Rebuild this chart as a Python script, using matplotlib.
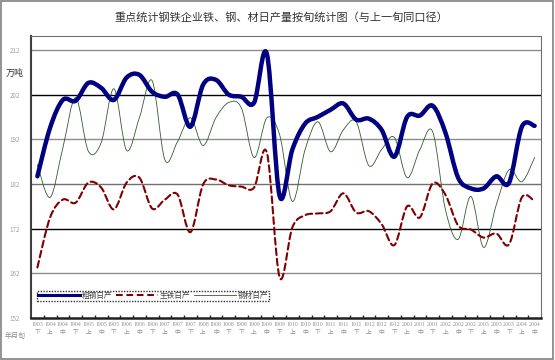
import matplotlib
matplotlib.use("Agg")
import matplotlib.pyplot as plt
from matplotlib.path import Path
from matplotlib.patches import PathPatch, Rectangle
from matplotlib.lines import Line2D

plt.rcParams['font.family'] = ['Noto Sans CJK SC', 'DejaVu Sans']

# ---------------- data ----------------
periods = ["1903"] + [y for y in ["1904", "1905", "1906", "1907"] for _ in range(3)] + \
          ["1908"] * 4 + [y for y in ["1909", "1910", "1911", "1912", "2001", "2002", "2003"] for _ in range(3)] + \
          ["2004"] * 2
xun = ["下"] + ["上", "中", "下"] * 4 + ["上", "中", "下", "下"] + ["上", "中", "下"] * 7 + ["上", "中"]

crude_steel = [183.7, 194.6, 200.8, 200.6, 204.6, 203.5, 200.8, 205.8, 206.4, 202.6,
               201.5, 202.0, 194.8, 204.2, 205.3, 202.0, 201.5, 200.2, 211.1, 179.3,
               189.7, 195.5, 197.0, 198.6, 200.0, 196.4, 196.6, 194.1, 188.1, 197.0,
               197.3, 199.5, 193.5, 183.4, 181.0, 181.0, 183.7, 182.3, 194.8, 195.0]
pig_iron = [163.3, 174.5, 178.5, 177.8, 182.3, 181.2, 176.3, 182.3, 183.4, 176.5,
            178.5, 179.6, 171.2, 181.9, 183.0, 181.7, 181.4, 181.2, 189.0, 161.1,
            172.3, 175.0, 175.4, 175.9, 179.9, 175.6, 175.9, 173.0, 168.3, 177.0,
            174.5, 182.1, 179.6, 172.7, 171.8, 170.0, 170.9, 168.5, 179.0, 178.1]
steel_products = [186.3, 179.0, 190.1, 201.3, 189.3, 191.2, 203.3, 189.5, 196.8, 205.1,
                  187.4, 191.5, 196.8, 190.6, 196.8, 200.2, 199.0, 187.9, 196.8, 193.0,
                  178.1, 189.7, 195.9, 189.2, 194.1, 195.9, 186.1, 189.7, 192.4, 183.4,
                  189.7, 193.7, 176.3, 169.6, 179.2, 167.8, 177.4, 185.2, 182.5, 187.9]
series_names = ["粗钢日产", "生铁日产", "钢材日产"]
yticks = [152, 162, 172, 182, 192, 202, 212]

# ---------------- figure ----------------
W, H = 555, 360
fig = plt.figure(figsize=(W / 100, H / 100), dpi=100)
ax = fig.add_axes([31 / W, 1 - 318 / H, 510 / W, 282 / H])
n = len(periods)
ax.set_xlim(-0.5, n - 0.5)
ax.set_ylim(152, 215.1)


def smooth_path(vals):
    pts = list(zip(range(len(vals)), vals))
    verts = [pts[0]]
    codes = [Path.MOVETO]
    for i in range(len(pts) - 1):
        p0 = pts[i - 1] if i > 0 else pts[i]
        p1 = pts[i]
        p2 = pts[i + 1]
        p3 = pts[i + 2] if i + 2 < len(pts) else pts[i + 1]
        c1 = (p1[0] + (p2[0] - p0[0]) / 6, p1[1] + (p2[1] - p0[1]) / 6)
        c2 = (p2[0] - (p3[0] - p1[0]) / 6, p2[1] - (p3[1] - p1[1]) / 6)
        verts += [c1, c2, p2]
        codes += [Path.CURVE4] * 3
    return Path(verts, codes)


# grid lines
grid_colors = {162: '#8c8c8c', 172: '#000000', 182: '#707070', 192: '#8c8c8c', 202: '#000000', 212: '#8c8c8c'}
for yv in yticks[1:]:
    ax.axhline(yv, color=grid_colors[yv], lw=1.0, zorder=1)

styles = [
    dict(color='#000080', lw=3.2, ls='-'),
    dict(color='#800000', lw=1.5, ls=(0, (3.2, 1.8))),
    dict(color='#2e5e2e', lw=0.6, ls='-'),
]
# draw order: green, red, blue on top
for vals, st in [(steel_products, styles[2]), (pig_iron, styles[1]), (crude_steel, styles[0])]:
    patch = PathPatch(smooth_path(vals), fill=False, edgecolor=st['color'], lw=st['lw'],
                      linestyle=st['ls'], capstyle='round', joinstyle='round', zorder=3)
    ax.add_patch(patch)

# axes styling
for side in ['top', 'right']:
    ax.spines[side].set_color('#707070')
    ax.spines[side].set_linewidth(0.8)
ax.spines['left'].set_color('#404040')
ax.spines['left'].set_linewidth(1.5)
ax.spines['bottom'].set_color('#202020')
ax.spines['bottom'].set_linewidth(1.8)

ax.set_yticks(yticks)
ax.set_yticklabels([str(v) for v in yticks], fontsize=4.5, color='#a0a0a0')
ax.tick_params(axis='y', length=0, pad=8)

ax.set_xticks(range(n))
ax.set_xticklabels([f"{p}\n{x}" for p, x in zip(periods, xun)], fontsize=4.2, color='#909090',
                   linespacing=1.6, family=['Liberation Serif', 'Noto Sans CJK SC'])
ax.set_xticks([i + 0.5 for i in range(n - 1)], minor=True)
ax.tick_params(axis='x', which='major', length=0, pad=3)
ax.tick_params(axis='x', which='minor', length=2.5, direction='in', color='#202020', width=1)

# legend
handles = [Line2D([], [], color=st['color'], lw=min(st['lw'], 2.2), ls=st['ls']) for st in styles]
leg = ax.legend(handles, series_names, ncol=3, loc='lower left',
                bbox_to_anchor=(0.012, 0.062, 0.455, 0.045), mode='expand',
                fontsize=5.5, frameon=True, fancybox=False, handlelength=5.5,
                handletextpad=0.3, columnspacing=1.5, borderpad=0.1, borderaxespad=0)
leg.get_frame().set_edgecolor('#000000')
leg.get_frame().set_linestyle((0, (1, 1)))
leg.get_frame().set_linewidth(1.0)
for t in leg.get_texts():
    t.set_color('#404040')

# texts
fig.text(281 / W, 1 - 17 / H, "重点统计钢铁企业铁、钢、材日产量按旬统计图（与上一旬同口径）",
         ha='center', va='center', fontsize=8, color='#333333')
fig.text(15 / W, 1 - 73 / H, "万吨", ha='center', va='center', fontsize=6.5, color='#333333')
fig.text(15 / W, 1 - 336 / H, "年月旬", ha='center', va='center', fontsize=5, color='#909090')

# figure border
fig.patches.append(Rectangle((0.002, 0.003), 0.995, 0.994, transform=fig.transFigure,
                             fill=False, edgecolor='#808080', lw=1.2))

fig.savefig("out.png", dpi=100)
